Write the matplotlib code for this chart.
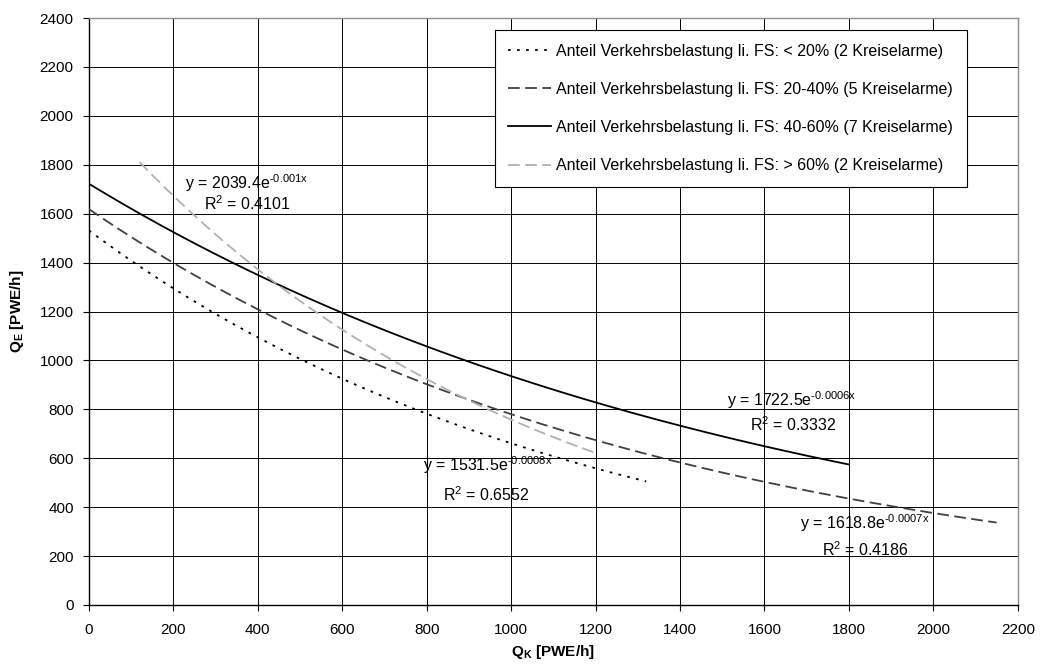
import numpy as np
import matplotlib
matplotlib.use("Agg")
import matplotlib.pyplot as plt

plt.rcParams['font.family'] = ['Liberation Sans', 'DejaVu Sans']
plt.rcParams['mathtext.fontset'] = 'custom'
plt.rcParams['mathtext.rm'] = 'Liberation Sans'
plt.rcParams['mathtext.it'] = 'Liberation Sans'
plt.rcParams['mathtext.bf'] = 'Liberation Sans:bold'

# Exponential trend lines y = a * exp(b * x)
series_labels = [
    "Anteil Verkehrsbelastung li. FS: < 20% (2 Kreiselarme)",
    "Anteil Verkehrsbelastung li. FS: 20-40% (5 Kreiselarme)",
    "Anteil Verkehrsbelastung li. FS: 40-60% (7 Kreiselarme)",
    "Anteil Verkehrsbelastung li. FS: > 60% (2 Kreiselarme)",
]
coef_a = [1531.5, 1618.8, 1722.5, 2039.4]
coef_b = [-0.00084, -0.00073, -0.00061, -0.00099]
b_shown = ["-0.0008", "-0.0007", "-0.0006", "-0.001"]
r_squared = ["0.6552", "0.4186", "0.3332", "0.4101"]
x_start = [0, 0, 0, 120]
x_end = [1320, 2150, 1800, 1200]

x_ticks = list(range(0, 2201, 200))
y_ticks = list(range(0, 2401, 200))

styles = [
    dict(color='black', lw=1.3, ls=(0, (1.5, 3.5))),
    dict(color='#404040', lw=1.3, ls=(0, (6.5, 3))),
    dict(color='black', lw=1.3, ls='-'),
    dict(color='#b0b0b0', lw=1.3, ls=(0, (6.5, 3))),
]
# equation label anchor (left edge), data coords
eq_pos = [(791, 572), (1684, 335), (1511, 838), (227, 1725)]
r2_pos = [(838, 450), (1736, 225), (1565, 736), (272, 1640)]

fig = plt.figure(figsize=(10.46, 6.69), dpi=100)
ax = fig.add_axes([0.085, 0.0957, 0.888, 0.8773])

for a, b, x0, x1, st, lab in zip(coef_a, coef_b, x_start, x_end, styles, series_labels):
    xs = np.linspace(x0, x1, 300)
    ax.plot(xs, a * np.exp(b * xs), color=st['color'], lw=st['lw'],
            linestyle=st['ls'], label=lab, zorder=3)

for a, bs, r2, (ex, ey), (rx, ry) in zip(coef_a, b_shown, r_squared, eq_pos, r2_pos):
    ax.text(ex, ey, f"y = {a:.1f}e$^{{\\text{{{bs}x}}}}$", fontsize=11.5,
            ha='left', va='center', zorder=4)
    ax.text(rx, ry, f"R$^{{\\text{{2}}}}$ = {r2}", fontsize=11.5,
            ha='left', va='center', zorder=4)

ax.set_xlim(0, 2200)
ax.set_ylim(0, 2400)
ax.set_xticks(x_ticks)
ax.set_yticks(y_ticks)
ax.tick_params(axis='both', labelsize=11, direction='out', length=4, width=0.8)
ax.tick_params(axis='x', pad=9)
ax.tick_params(axis='y', pad=7)
ax.grid(True, color='black', lw=0.7, zorder=0)
ax.set_axisbelow(True)
for s in ['top', 'right']:
    ax.spines[s].set_color('#8c8c8c')
    ax.spines[s].set_linewidth(1.0)
for s in ['left', 'bottom']:
    ax.spines[s].set_color('black')
    ax.spines[s].set_linewidth(1.0)

ax.set_xlabel(r"$\mathbf{Q_K}$ [PWE/h]", fontsize=11, fontweight='bold', labelpad=4)
ax.set_ylabel(r"$\mathbf{Q_E}$ [PWE/h]", fontsize=11, fontweight='bold', labelpad=10)

leg = ax.legend(loc='upper right', bbox_to_anchor=(0.945, 0.9796), fontsize=11.5,
                frameon=True, fancybox=False, framealpha=1, edgecolor='black',
                handlelength=2.7, handletextpad=0.3, labelspacing=1.45,
                borderpad=0.85, borderaxespad=0)
leg.get_frame().set_linewidth(0.8)

fig.savefig("out.png", dpi=100, facecolor='white')
